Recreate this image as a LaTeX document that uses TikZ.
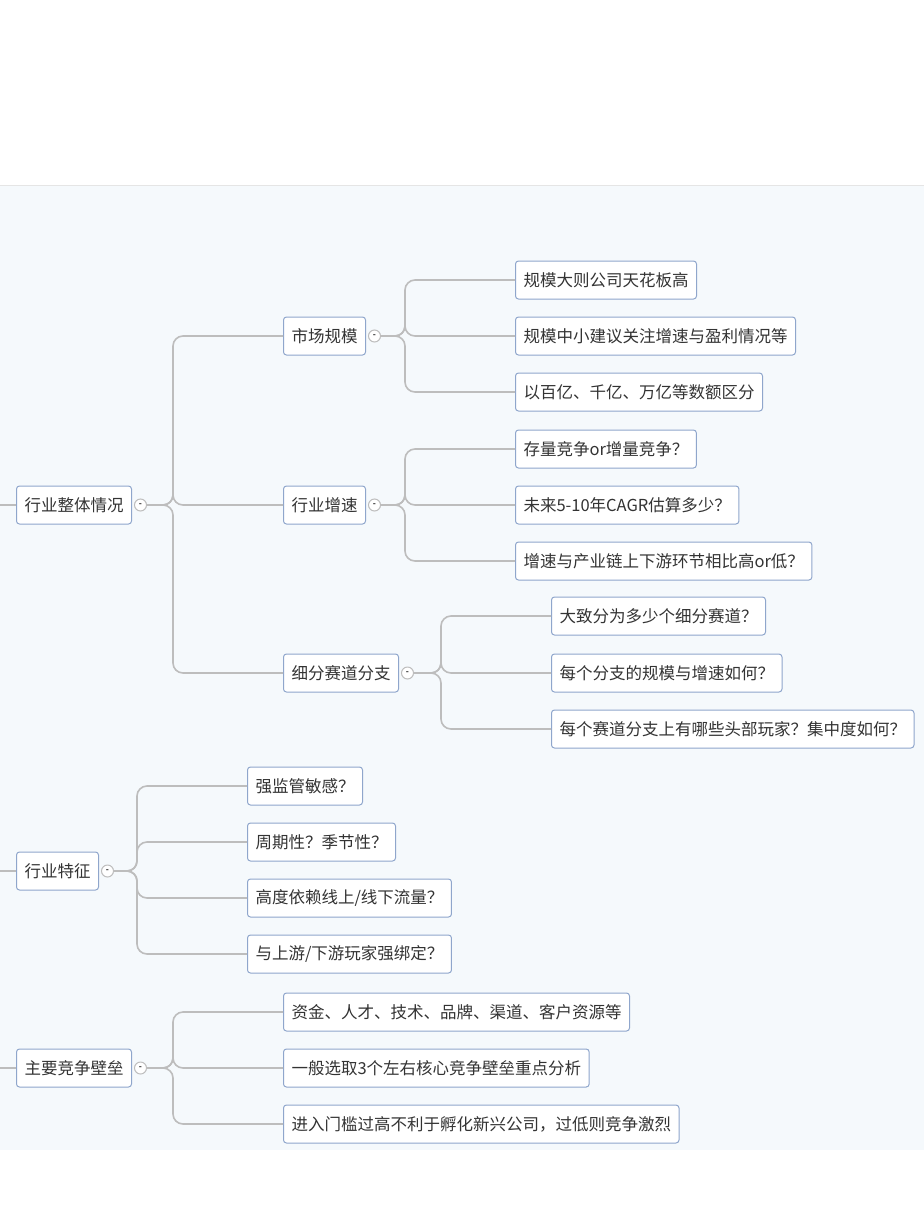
\documentclass[tikz,border=0pt]{standalone}
\usepackage{fontspec}
\usetikzlibrary{positioning}
\setmainfont{Noto Sans CJK SC}
\definecolor{bx}{HTML}{8FA6CC}
\definecolor{ln}{HTML}{BDBDBD}
\definecolor{bg}{HTML}{F5F9FC}
\definecolor{tx}{HTML}{333333}
\begin{document}
\begin{tikzpicture}[x=1pt,y=-1pt,
  box/.style={draw=bx,line width=1pt,fill=white,rounded corners=3pt,anchor=west,minimum height=38pt,inner xsep=8pt,font=\fontsize{16.5}{18}\selectfont,text=tx},
  tog/.style={draw=ln,line width=1pt,fill=white,circle,inner sep=0pt,minimum size=12pt,anchor=west,font=\fontsize{8}{8}\selectfont\bfseries,text=tx},
  conn/.style={draw=ln,line width=1.6pt,rounded corners=10pt}]
\fill[white] (0,0) rectangle (924,1232);
\useasboundingbox (0,0) rectangle (924,1232);
\clip (0,0) rectangle (924,1232);
\fill[bg] (0,185) rectangle (924,1150);
\draw[gray!20,line width=1pt] (0,185) -- (924,185);
% level 1
\node[box] (a) at (16,505) {行业整体情况};
\node[tog,right=2pt of a] (ta) {-};
\node[box] (b) at (16,871) {行业特征};
\node[tog,right=2pt of b] (tb) {-};
\node[box] (c) at (16,1068) {主要竞争壁垒};
\node[tog,right=2pt of c] (tc) {-};
\coordinate (la) at (0,505);\coordinate (lb) at (0,871);\coordinate (lc) at (0,1068);
\draw[conn] (la) -- (a.west); \draw[conn] (lb) -- (b.west); \draw[conn] (lc) -- (c.west);
% level 2
\node[box] (a1) at (283,336) {市场规模};
\node[tog,right=2pt of a1] (ta1) {-};
\node[box] (a2) at (283,505) {行业增速};
\node[tog,right=2pt of a2] (ta2) {-};
\node[box] (a3) at (283,673) {细分赛道分支};
\node[tog,right=2pt of a3] (ta3) {-};
\foreach \n in {a1,a2,a3} \draw[conn] (ta.east) -- (173,505) |- (\n.west);
% leaves
\node[box] (a11) at (515,280) {规模大则公司天花板高};
\node[box] (a12) at (515,336) {规模中小建议关注增速与盈利情况等};
\node[box] (a13) at (515,392) {以百亿、千亿、万亿等数额区分};
\foreach \n in {a11,a12,a13} \draw[conn] (ta1.east) -- (405,336) |- (\n.west);
\node[box] (a21) at (515,449) {存量竞争or增量竞争？};
\node[box] (a22) at (515,505) {未来5-10年CAGR估算多少？};
\node[box] (a23) at (515,561) {增速与产业链上下游环节相比高or低？};
\foreach \n in {a21,a22,a23} \draw[conn] (ta2.east) -- (405,505) |- (\n.west);
\node[box] (a31) at (551,616) {大致分为多少个细分赛道？};
\node[box] (a32) at (551,673) {每个分支的规模与增速如何？};
\node[box] (a33) at (551,729) {每个赛道分支上有哪些头部玩家？集中度如何？};
\foreach \n in {a31,a32,a33} \draw[conn] (ta3.east) -- (441,673) |- (\n.west);
\node[box] (b1) at (247,786) {强监管敏感？};
\node[box] (b2) at (247,842) {周期性？季节性？};
\node[box] (b3) at (247,898) {高度依赖线上/线下流量？};
\node[box] (b4) at (247,954) {与上游/下游玩家强绑定？};
\foreach \n in {b1,b2,b3,b4} \draw[conn] (tb.east) -- (137,871) |- (\n.west);
\node[box] (c1) at (283,1012) {资金、人才、技术、品牌、渠道、客户资源等};
\node[box] (c2) at (283,1068) {一般选取3个左右核心竞争壁垒重点分析};
\node[box] (c3) at (283,1124) {进入门槛过高不利于孵化新兴公司，过低则竞争激烈};
\foreach \n in {c1,c2,c3} \draw[conn] (tc.east) -- (173,1068) |- (\n.west);
\end{tikzpicture}
\end{document}
